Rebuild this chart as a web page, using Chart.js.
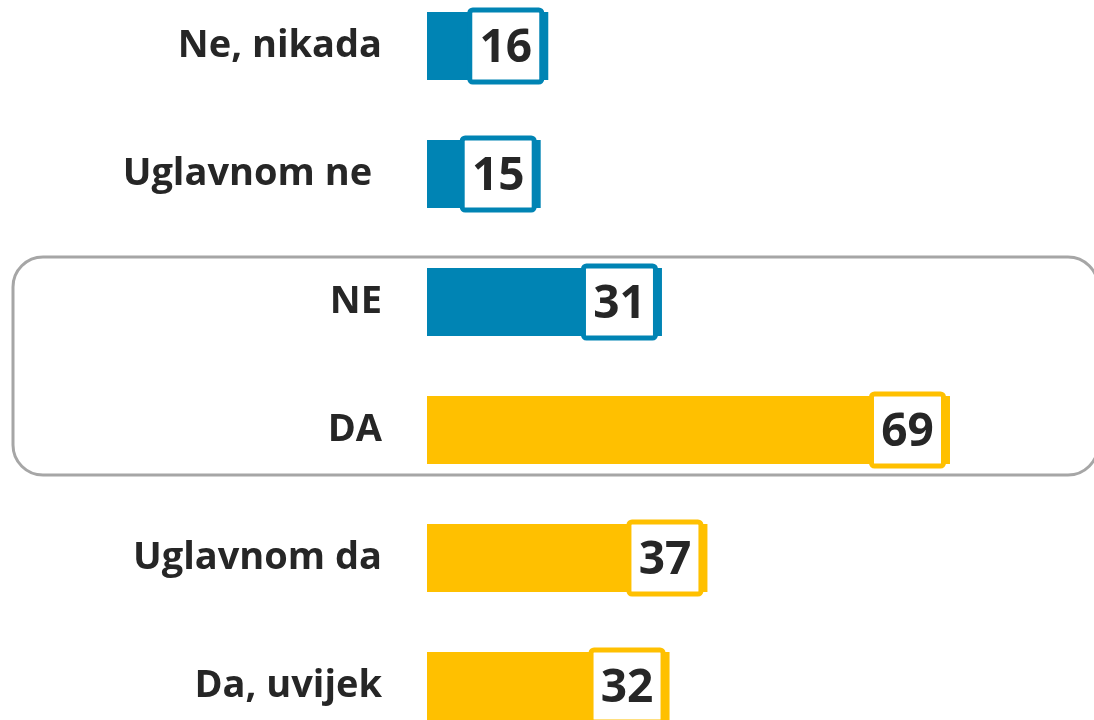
<!DOCTYPE html>
<html>
<head>
<meta charset="utf-8">
<script src="https://cdn.jsdelivr.net/npm/chart.js@4"></script>
<style>
  html, body { margin: 0; padding: 0; background: #ffffff; }
  body { width: 1094px; height: 720px; overflow: hidden; position: relative; }
  #wrap { position: absolute; left: 0; top: -18px; width: 1094px; height: 768px; }
</style>
</head>
<body>
<div id="wrap"><canvas id="c" width="1094" height="768"></canvas></div>
<script>
const categories = ["Ne, nikada", "Uglavnom ne ", "NE", "DA", "Uglavnom da", "Da, uvijek"];
const values = [16, 15, 31, 69, 37, 32];
const groups = ["NE", "NE", "NE", "DA", "DA", "DA"];
const xMin = 0;
const xMax = 88;

const groupColor = { NE: "#0084B4", DA: "#FFC000" };
const colors = groups.map(g => groupColor[g]);

function roundRectPath(ctx, x, y, w, h, r) {
  ctx.beginPath();
  ctx.moveTo(x + r, y);
  ctx.lineTo(x + w - r, y);
  ctx.arcTo(x + w, y, x + w, y + r, r);
  ctx.lineTo(x + w, y + h - r);
  ctx.arcTo(x + w, y + h, x + w - r, y + h, r);
  ctx.lineTo(x + r, y + h);
  ctx.arcTo(x, y + h, x, y + h - r, r);
  ctx.lineTo(x, y + r);
  ctx.arcTo(x, y, x + r, y, r);
  ctx.closePath();
}

const framePlugin = {
  id: "frame",
  beforeDatasetsDraw(chart) {
    const ctx = chart.ctx;
    const ys = chart.scales.y;
    const top = ys.getPixelForValue(2) - 45;
    const bottom = ys.getPixelForValue(3) + 45;
    ctx.save();
    ctx.strokeStyle = "#A6A6A6";
    ctx.lineWidth = 3;
    roundRectPath(ctx, 13, top, 1085, bottom - top, 30);
    ctx.stroke();
    ctx.restore();
  }
};

const labelBoxPlugin = {
  id: "labelBox",
  afterDatasetsDraw(chart) {
    const ctx = chart.ctx;
    const meta = chart.getDatasetMeta(0);
    const size = 77, bw = 5;
    meta.data.forEach((bar, i) => {
      const right = bar.x - 4;
      const left = right - size;
      const top = bar.y - size / 2;
      ctx.save();
      roundRectPath(ctx, left + bw / 2, top + bw / 2, size - bw, size - bw, 3);
      ctx.fillStyle = "#ffffff";
      ctx.fill();
      ctx.lineWidth = bw;
      ctx.strokeStyle = colors[i];
      ctx.stroke();
      ctx.fillStyle = "#262626";
      ctx.font = "bold 46px 'Open Sans', 'Noto Sans', sans-serif";
      ctx.textAlign = "center";
      ctx.textBaseline = "middle";
      ctx.fillText(String(values[i]), left + size / 2, bar.y + 3);
      ctx.restore();
    });
  }
};

new Chart(document.getElementById("c"), {
  type: "bar",
  data: {
    labels: categories,
    datasets: [{
      data: values,
      backgroundColor: colors,
      borderWidth: 0,
      categoryPercentage: 1,
      barPercentage: 0.53
    }]
  },
  options: {
    indexAxis: "y",
    responsive: false,
    animation: false,
    devicePixelRatio: 1,
    layout: { padding: 0 },
    plugins: {
      legend: { display: false },
      tooltip: { enabled: false }
    },
    scales: {
      x: { display: false, min: xMin, max: xMax },
      y: {
        grid: { display: false, drawTicks: false },
        border: { display: false },
        ticks: {
          color: "#262626",
          padding: 45,
          font: { family: "'Open Sans', 'Noto Sans', sans-serif", size: 38, weight: "bold" }
        },
        afterFit(scale) {
          scale.width = 427;
          scale.paddingTop = 0;
          scale.paddingBottom = 0;
        }
      }
    }
  },
  plugins: [framePlugin, labelBoxPlugin]
});
</script>
</body>
</html>
